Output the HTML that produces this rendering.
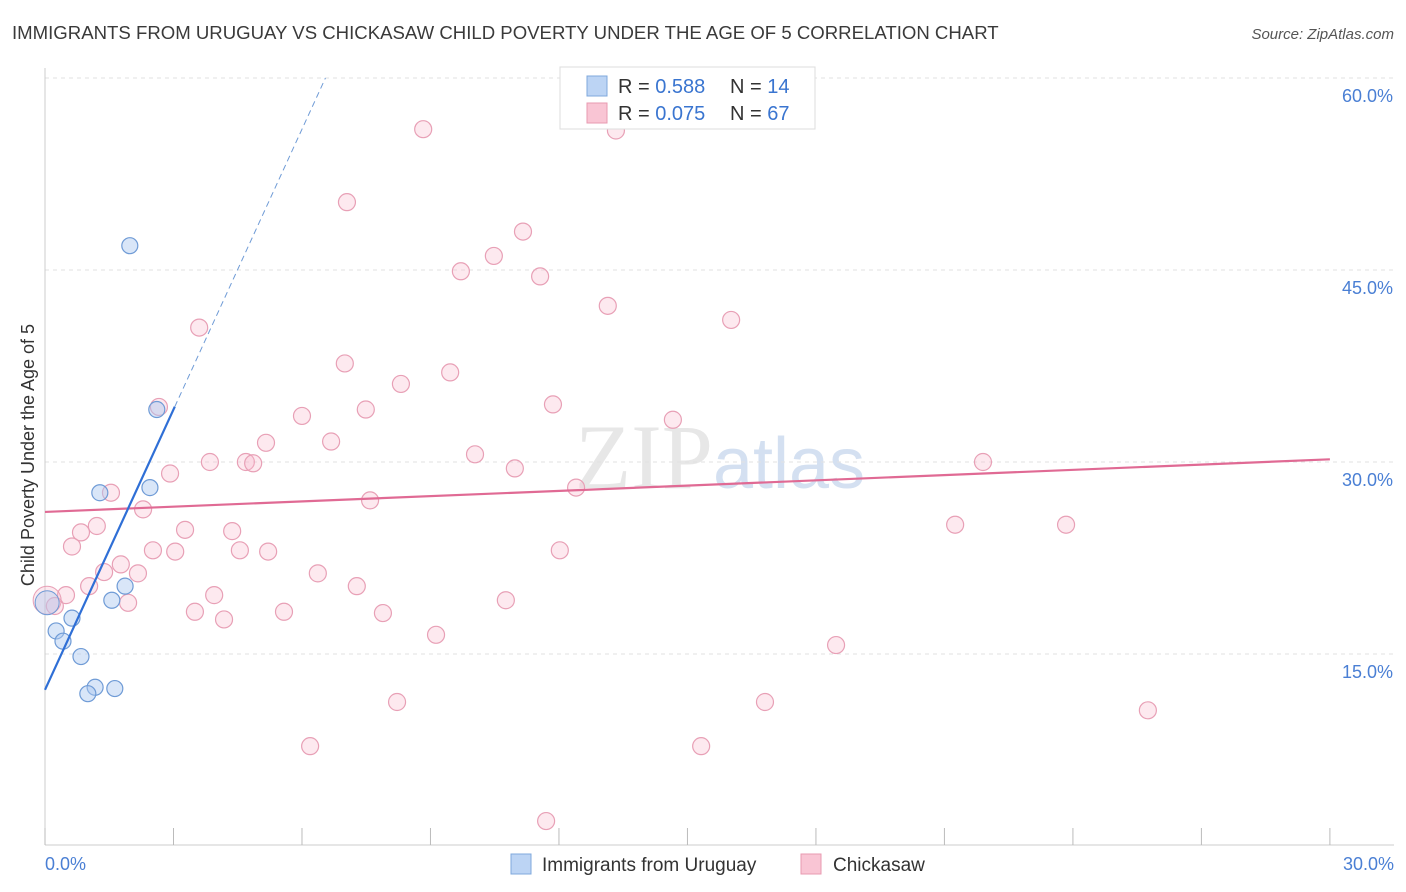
<!DOCTYPE html>
<html><head><meta charset="utf-8"><style>
body{margin:0;background:#fff;font-family:"Liberation Sans",sans-serif;}
svg{display:block}
</style></head><body>
<svg id="chart" width="1406" height="892" xmlns="http://www.w3.org/2000/svg">
<text x="12" y="39" font-size="18.6" fill="#3a3a3a">IMMIGRANTS FROM URUGUAY VS CHICKASAW CHILD POVERTY UNDER THE AGE OF 5 CORRELATION CHART</text>
<text x="1394" y="39" font-size="15" fill="#555" font-style="italic" text-anchor="end">Source: ZipAtlas.com</text>
<text x="720" y="488" font-size="92" fill="#d8d8d8" text-anchor="middle" font-family="Liberation Serif,serif" opacity="0.6">ZIP<tspan fill="#b8cde8" font-family="Liberation Sans,sans-serif" font-size="72">atlas</tspan></text>
<g id="grid"></g>
<g id="axes"></g>
<g id="marks"></g>
<text transform="translate(34,455) rotate(-90)" font-size="18" fill="#333" text-anchor="middle">Child Poverty Under the Age of 5</text>
<text x="45" y="870" font-size="18" fill="#4a7fd4">0.0%</text>
<text x="1394" y="870" font-size="18" fill="#4a7fd4" text-anchor="end">30.0%</text>
<g>
<rect x="560" y="67" width="255" height="62" fill="#fff" stroke="#ddd"/>
<rect x="587" y="76" width="20" height="20" fill="#bcd4f4" stroke="#7fa8dc"/>
<rect x="587" y="103" width="20" height="20" fill="#f9c5d4" stroke="#e89ab0"/>
<text x="618" y="93" font-size="20" fill="#333">R = <tspan fill="#3a75d0">0.588</tspan><tspan x="730">N = </tspan><tspan fill="#3a75d0">14</tspan></text>
<text x="618" y="120" font-size="20" fill="#333">R = <tspan fill="#3a75d0">0.075</tspan><tspan x="730">N = </tspan><tspan fill="#3a75d0">67</tspan></text>
</g>
<g>
<rect x="511" y="854" width="20" height="20" fill="#bcd4f4" stroke="#7fa8dc"/>
<text x="542" y="871" font-size="19" fill="#333">Immigrants from Uruguay</text>
<rect x="801" y="854" width="20" height="20" fill="#f9c5d4" stroke="#e89ab0"/>
<text x="833" y="871" font-size="19" fill="#333">Chickasaw</text>
</g>
</svg>
<script>
const yTicks=[15,30,45,60];
const yTickLabels=["15.0%","30.0%","45.0%","60.0%"];
const xTicks=[0,3,6,9,12,15,18,21,24,27,30];
const blueX=[1.98,2.61,1.28,2.45,1.87,1.56,0.63,0.26,0.42,0.84,1.17,1.63,1.0];
const blueY=[46.9,34.1,27.6,28.0,20.3,19.2,17.8,16.8,16.0,14.8,12.4,12.3,11.9];
const blueBig=[0.05,19.0];
const pinkX=[8.83,13.33,7.05,11.16,10.48,9.71,11.56,13.14,16.02,3.60,7.00,9.46,8.31,11.86,7.49,2.66,6.00,6.68,5.16,14.66,10.04,3.85,4.69,4.86,10.97,21.90,2.92,1.54,12.40,7.59,2.29,1.21,0.84,3.27,4.37,21.25,23.84,0.63,2.52,3.04,4.55,5.21,12.02,1.77,1.38,2.17,6.37,1.03,7.28,3.95,10.76,0.49,0.23,1.94,3.50,4.18,5.58,7.89,9.13,18.47,8.22,16.81,25.75,6.19,15.32,11.70];
const pinkY=[56.0,55.9,50.3,48.0,46.1,44.9,44.5,42.2,41.1,40.5,37.7,37.0,36.1,34.5,34.1,34.3,33.6,31.6,31.5,33.3,30.6,30.0,30.0,29.9,29.5,30.0,29.1,27.6,28.0,27.0,26.3,25.0,24.5,24.7,24.6,25.1,25.1,23.4,23.1,23.0,23.1,23.0,23.1,22.0,21.4,21.3,21.3,20.3,20.3,19.6,19.2,19.6,18.75,19.0,18.3,17.7,18.3,18.2,16.5,15.7,11.25,11.25,10.6,7.8,7.8,1.95];
const pinkBig=[0.05,19.2];
const blueFit=[12.2,7.3,3.03];
const pinkFit=[26.1,0.137];
const X=v=>45+v*42.83, Y=v=>846-v*12.8;
const NS="http://www.w3.org/2000/svg";
function mk(p,t,a){const e=document.createElementNS(NS,t);for(const k in a)e.setAttribute(k,a[k]);document.getElementById(p).appendChild(e);return e;}
yTicks.forEach((t,i)=>{
 const l=mk('grid','line',{x1:45,x2:1394,y1:Y(t),y2:Y(t),stroke:'#e2e2e2','stroke-dasharray':'4,4'});
 
 
 const tx=mk('grid','text',{x:1393,y:Y(t)+24,'font-size':18,fill:'#4a7fd4','text-anchor':'end'});
 tx.textContent=yTickLabels[i];
 
 
});
let ax=mk('axes','line',{x1:45,x2:1394,y1:845,y2:845,stroke:'#ccc'});


ax=mk('axes','line',{x1:45,x2:45,y1:68,y2:845,stroke:'#ccc'});


xTicks.forEach(t=>{
 const l=mk('axes','line',{x1:X(t),x2:X(t),y1:828,y2:845,stroke:'#bbb'});
 
 
});
pinkX.forEach((x,i)=>{
 const c=mk('marks','circle',{cx:X(x),cy:Y(pinkY[i]),r:8.5,fill:'rgba(248,182,202,0.3)',stroke:'#e8a0b6','stroke-width':1.2});
 
 
});
let b=mk('marks','circle',{cx:X(pinkBig[0]),cy:Y(pinkBig[1]),r:14,fill:'rgba(248,182,202,0.3)',stroke:'#e8a0b6'});


blueX.forEach((x,i)=>{
 const c=mk('marks','circle',{cx:X(x),cy:Y(blueY[i]),r:8,fill:'rgba(170,200,240,0.45)',stroke:'#6f9bd6','stroke-width':1.2});
 
 
});
b=mk('marks','circle',{cx:X(blueBig[0]),cy:Y(blueBig[1]),r:12,fill:'rgba(170,200,240,0.4)',stroke:'#6f9bd6'});


let ln=mk('marks','line',{x1:X(0),y1:Y(pinkFit[0]),x2:X(30),y2:Y(pinkFit[0]+pinkFit[1]*30),stroke:'#e06a94','stroke-width':2.2});


ln=mk('marks','line',{x1:X(0),y1:Y(blueFit[0]),x2:X(blueFit[2]),y2:Y(blueFit[0]+blueFit[1]*blueFit[2]),stroke:'#2f6fd6','stroke-width':2.2});


const xe=(60-blueFit[0])/blueFit[1];
ln=mk('marks','line',{x1:X(blueFit[2]),y1:Y(blueFit[0]+blueFit[1]*blueFit[2]),x2:X(xe),y2:Y(60),stroke:'#6f9bd6','stroke-width':1,'stroke-dasharray':'6,4'});


</script>
</body></html>
